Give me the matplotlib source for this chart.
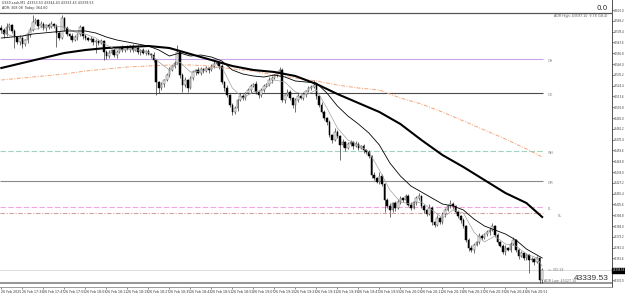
import numpy as np
import matplotlib
matplotlib.use("Agg")
from matplotlib import pyplot as plt

# US30.cash M1, 26 Feb 2025 17:31 - 20:57
first_open = 43582
closes = [
    43580, 43576, 43583, 43585, 43579, 43573, 43568, 43572, 43566, 43570,
    43575, 43580, 43588, 43590, 43584, 43586, 43582, 43585, 43583, 43586,
    43584, 43577, 43572, 43592, 43582, 43576, 43574, 43570, 43573, 43576,
    43583, 43574, 43572, 43570, 43571, 43568, 43569, 43567, 43569, 43558,
    43554, 43557, 43560, 43555, 43558, 43562, 43560, 43563, 43561, 43564,
    43560, 43562, 43558, 43560, 43557, 43559, 43556, 43555, 43550, 43528,
    43522, 43526, 43530, 43535, 43540, 43544, 43547, 43558, 43535, 43525,
    43530, 43522, 43532, 43538, 43540, 43537, 43541, 43539, 43542, 43540,
    43544, 43546, 43547, 43544, 43528, 43522, 43515, 43505, 43498, 43502,
    43510, 43514, 43512, 43517, 43520, 43524, 43526, 43518, 43515, 43520,
    43524, 43526, 43530, 43532, 43535, 43537, 43540, 43510, 43515, 43518,
    43512, 43505, 43510, 43514, 43512, 43516, 43519, 43522, 43523, 43525,
    43514, 43505, 43498, 43492, 43488, 43475, 43470, 43478, 43474, 43465,
    43468, 43462, 43466, 43468, 43464, 43466, 43462, 43464, 43460, 43458,
    43454, 43435, 43432, 43428, 43434, 43426, 43410, 43404, 43400, 43407,
    43402, 43408, 43412, 43410, 43414, 43405, 43402, 43408, 43412, 43414,
    43404, 43400, 43396, 43402, 43388, 43385, 43392, 43388, 43396, 43400,
    43404, 43406, 43404, 43398, 43394, 43390, 43384, 43370, 43362, 43360,
    43365, 43368, 43374, 43372, 43376, 43378, 43380, 43384, 43375, 43368,
    43364, 43358, 43362, 43360, 43366, 43370, 43360, 43354, 43357, 43352,
    43355, 43350, 43351, 43348, 43352, 43330, 43339.53,
]
# wick lengths above / below the body, in points
wick_up = [
    3, 2, 4, 2, 1, 2, 1, 3, 2, 1,  2, 3, 7, 2, 1, 3, 2, 1, 2, 3,
    1, 2, 2, 3, 1, 2, 1, 3, 2, 1,  2, 1, 2, 1, 3, 1, 2, 1, 2, 1,
    2, 3, 1, 2, 2, 1, 3, 1, 2, 1,  2, 1, 3, 1, 2, 1, 2, 1, 3, 1,
    1, 2, 1, 2, 3, 1, 2, 7, 1, 2,  3, 1, 2, 2, 1, 3, 2, 1, 2, 1,
    2, 4, 2, 1, 2, 1, 3, 1, 2, 2,  1, 3, 2, 1, 2, 2, 1, 3, 1, 2,
    2, 1, 3, 2, 1, 2, 3, 2, 1, 3,  2, 1, 2, 3, 1, 2, 1, 2, 2, 5,
    2, 1, 3, 2, 1, 2, 1, 4, 2, 1,  3, 1, 2, 2, 1, 3, 2, 1, 2, 1,
    2, 1, 3, 1, 4, 2, 1, 2, 3, 1,  2, 3, 2, 1, 2, 2, 3, 1, 2, 3,
    1, 2, 1, 4, 2, 1, 3, 1, 2, 2,  1, 4, 2, 1, 2, 1, 2, 1, 2, 3,
    2, 1, 3, 2, 1, 2, 2, 3, 1, 2,  1, 2, 3, 1, 2, 3, 1, 2, 2, 1,
    2, 1, 2, 1, 2, 1, 2,
]
wick_dn = [
    3, 4, 2, 3, 2, 11, 2, 3, 4, 2,  3, 2, 1, 2, 3, 1, 2, 3, 2, 1,
    2, 14, 2, 1, 3, 2, 3, 2, 1, 3,  2, 3, 2, 1, 2, 3, 11, 2, 1, 8,
    3, 2, 1, 2, 3, 1, 2, 2, 1, 3,  2, 1, 2, 3, 1, 2, 1, 3, 2, 13,
    5, 2, 3, 1, 2, 1, 2, 1, 3, 7,  2, 4, 1, 2, 3, 1, 2, 2, 1, 3,
    1, 2, 1, 3, 2, 3, 2, 2, 3, 2,  3, 1, 2, 2, 1, 3, 1, 2, 3, 2,
    2, 1, 2, 3, 1, 2, 1, 2, 3, 1,  2, 3, 7, 2, 1, 2, 3, 1, 2, 1,
    3, 2, 1, 2, 3, 2, 3, 1, 2, 15,  2, 3, 1, 2, 3, 1, 2, 1, 3, 2,
    2, 3, 2, 1, 2, 2, 12, 2, 7, 2,  3, 1, 2, 2, 3, 1, 2, 1, 3, 2,
    2, 3, 2, 1, 3, 2, 1, 2, 2, 3,  1, 2, 3, 1, 2, 3, 2, 2, 3, 2,
    3, 1, 2, 2, 1, 2, 3, 1, 2, 2,  1, 2, 3, 1, 2, 1, 2, 3, 1, 2,
    2, 13, 2, 3, 1, 3, 3,
]

# moving averages, sampled at bar positions
slow_bars = list(range(0, 201, 8)) + [206]
ma_thick = [43542, 43547, 43552, 43557, 43560, 43562, 43563, 43564, 43562, 43556,
            43550, 43544, 43540, 43538, 43534, 43526, 43516, 43507, 43498, 43486,
            43470, 43455, 43443, 43430, 43417, 43407, 43393]
ma_orange = [43530, 43532, 43534, 43536, 43539, 43541, 43543, 43544, 43545, 43545,
             43544, 43541, 43539, 43535, 43532, 43529, 43525, 43522, 43520, 43512,
             43506, 43498, 43489, 43480, 43471, 43461, 43453]
fast_bars = list(range(0, 205, 4)) + [206]
ma_thin = [43572, 43573, 43574, 43576, 43577, 43578, 43579, 43579, 43579, 43577,
           43573, 43570, 43568, 43566, 43564, 43560, 43554, 43557, 43554, 43555,
           43553, 43549, 43540, 43536, 43534, 43533, 43535, 43533, 43529, 43528,
           43527, 43517, 43504, 43494, 43486, 43477, 43465, 43447, 43434, 43424,
           43418, 43412, 43406, 43404, 43400, 43391, 43384, 43380, 43376, 43370,
           43361, 43355, 43352]
ma_gray = [43578, 43574, 43573, 43580, 43583, 43584, 43583, 43578, 43576, 43572,
           43565, 43560, 43561, 43560, 43558, 43548, 43540, 43548, 43538, 43539,
           43542, 43543, 43522, 43512, 43518, 43520, 43530, 43528, 43518, 43515,
           43520, 43502, 43482, 43470, 43465, 43458, 43440, 43420, 43408, 43406,
           43408, 43400, 43392, 43400, 43397, 43378, 43368, 43374, 43366, 43364,
           43356, 43352, 43344]

# horizontal levels
adr_high = 43597
adr_low = 43327
levels = [("DH", 43551, "#c9a6e6", "-"), ("DO", 43517, "#4a4a4a", "-"),
          ("WH", 43459, "#9fd4bf", (0, (5, 2))), ("DM", 43429, "#8a8a8a", "-"),
          ("PL", 43403, "#f2a6dd", (0, (5, 2))), ("", 43397, "#d6a0a0", (0, (4, 1.5, 1, 1.5)))]
bid = 43339.53

time_labels = ["26 Feb 2025", "26 Feb 17:39", "26 Feb 17:47", "26 Feb 17:55", "26 Feb 18:03",
               "26 Feb 18:11", "26 Feb 18:19", "26 Feb 18:27", "26 Feb 18:35", "26 Feb 18:43",
               "26 Feb 18:51", "26 Feb 18:59", "26 Feb 19:07", "26 Feb 19:15", "26 Feb 19:23",
               "26 Feb 19:31", "26 Feb 19:39", "26 Feb 19:47", "26 Feb 19:55", "26 Feb 20:03",
               "26 Feb 20:11", "26 Feb 20:19", "26 Feb 20:27", "26 Feb 20:35", "26 Feb 20:43",
               "26 Feb 20:51"]

W, H = 625, 298
fig = plt.figure(figsize=(W / 100, H / 100), dpi=100)
fig.patch.set_facecolor("white")
ax = fig.add_axes([0, 11 / H, 612 / W, 287 / H])
ax.set_xlim(-0.5, 232.6)
ax.set_ylim(43323, 43610)

c = np.array(closes, dtype=float)
o = np.array([first_open] + closes[:-1], dtype=float)
hi = np.maximum(o, c) + np.array(wick_up)
lo = np.minimum(o, c) - np.array(wick_dn)
x = np.arange(len(c))

# level lines
ax.axhline(adr_high, color="#555555", lw=0.9, zorder=1)
ax.axhline(adr_low, color="#8c8c8c", lw=1.3, zorder=1)
ax.axhline(bid, color="#cfcfcf", lw=0.5, zorder=1)
for name, p, col, ls in levels:
    ax.hlines(p, -0.5, 206.5, colors=col, linestyles=ls, lw=0.8, zorder=1)
    if name:
        ax.text(208, p - 1.5, name, fontsize=2.4, color="#888888", va="center")
ax.text(212, 43394, "RL", fontsize=2.4, color="#888888", va="center")

# moving averages
ax.plot(slow_bars, ma_orange, color="#f4a57a", lw=0.7, ls=(0, (4, 1.5, 1, 1.5)), zorder=2)
ax.plot(slow_bars, ma_thick, color="black", lw=1.5, zorder=4)
ax.plot(fast_bars, ma_gray, color="#a0a0a0", lw=0.5, zorder=4)
ax.plot(fast_bars, ma_thin, color="black", lw=0.6, zorder=4)

# candles
up = c >= o
ax.vlines(x, lo, hi, color="#222222", lw=0.45, zorder=3)
body = np.maximum(np.abs(c - o), 0.6)
ax.bar(x[up], body[up], bottom=np.minimum(o, c)[up], width=0.62,
       color="white", edgecolor="#444444", lw=0.35, zorder=3)
ax.bar(x[~up], body[~up], bottom=np.minimum(o, c)[~up], width=0.62,
       color="black", edgecolor="black", lw=0.35, zorder=3)

# axes styling
for s in ["top", "left"]:
    ax.spines[s].set_visible(False)
ax.spines["right"].set_color("#333333")
ax.spines["right"].set_linewidth(0.6)
ax.spines["bottom"].set_color("#8c8c8c")
ax.spines["bottom"].set_linewidth(0.6)
ax.yaxis.tick_right()
yt = [v for v in np.arange(43600, 43325, -10.8) if abs(v - bid) > 6]
ax.set_yticks(yt)
ax.set_yticklabels([f"{v:.1f}" for v in yt])
ax.tick_params(axis="y", length=1.2, width=0.4, labelsize=1.9, pad=0.3, colors="#333333")
ax.set_xticks(list(range(0, 201, 8)))
ax.set_xticklabels(time_labels, ha="left")
ax.tick_params(axis="x", length=1.5, width=0.4, labelsize=2.3, pad=1, colors="#333333")

# current price box on the scale
ax.text(1.001, bid, f"{bid:.2f}", transform=ax.get_yaxis_transform(), fontsize=1.9,
        color="white", va="center", ha="left",
        bbox=dict(boxstyle="square,pad=0.2", fc="black", ec="black"), clip_on=False)

# texts
fig.text(2 / W, 1 - 3 / H, "US30.cash,M1  43353.53 43344.43 43333.43 43339.53",
         fontsize=2.3, color="#333333", va="center")
fig.text(2 / W, 1 - 8 / H, "ADR: 308.08  Today: 364.60", fontsize=2.3, color="#333333", va="center")
fig.text(608 / W, 1 - 7.5 / H, "0.0", fontsize=5, color="#222222", ha="right", va="center")
fig.text(608 / W, 1 - 15.5 / H, "ADR High: 43597.10  9.78 (18.4)", fontsize=2.3,
         color="#555555", ha="right", va="center")
fig.text(548 / W, 1 - 270 / H, "<- 0D:19", fontsize=2.4, color="#777777", va="center")
fig.text(576 / W, 1 - 280.5 / H, "ADR Low: 43327.10", fontsize=2.3, color="#666666",
         ha="right", va="center")
fig.text(609 / W, 1 - 279 / H, "43339.53", fontsize=6, family="Liberation Sans",
         color="#333333", ha="right", va="center")

fig.savefig("out.png", dpi=100)
